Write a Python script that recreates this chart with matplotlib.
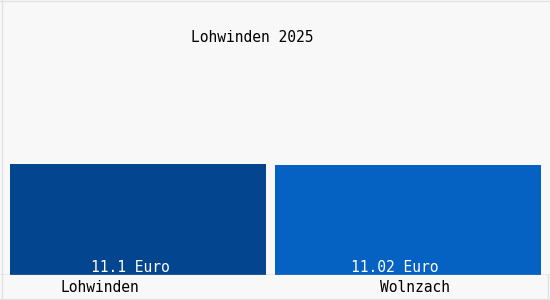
import matplotlib.pyplot as plt

# data
orte = ['Lohwinden', 'Wolnzach']
werte = [11.1, 11.02]
werte_text = ['11.1 Euro', '11.02 Euro']
titel = 'Lohwinden 2025'
farben = ['#03468f', '#0561c2']

fig = plt.figure(figsize=(5.5, 3), dpi=100)
fig.patch.set_facecolor('#f8f8f8')

# bars: value 0 at y=275 px, 10 px per unit
ax = fig.add_axes([0, 25 / 300, 1, 275 / 300])
ax.set_xlim(0, 550)
ax.set_ylim(0, 27.5)
ax.axis('off')
links = [10, 275]
breite = [256, 266]
ax.bar(links, werte, width=breite, align='edge', color=farben, linewidth=0)
ax.axhline(0, color='#a8a8a8', lw=1)

# overlay in pixel coords for frame and texts
bg = fig.add_axes([0, 0, 1, 1])
bg.set_zorder(5)
bg.set_xlim(0, 550)
bg.set_ylim(300, 0)
bg.axis('off')
bg.plot([2, 2], [0, 300], color='#e2e2e2', lw=1)
bg.plot([0, 550], [1, 1], color='#e2e2e2', lw=1)
bg.plot([0, 550], [298.5, 298.5], color='#e2e2e2', lw=1)
bg.plot([548, 548], [275, 300], color='#e2e2e2', lw=1)

font = dict(family='DejaVu Sans Mono', fontsize=10.5)
label_x = [130.5, 394.5]
for x, t in zip(label_x, werte_text):
    bg.text(x, 268, t, color='white', ha='center', va='center', **font)

name_x = [99.5, 415]
for x, n in zip(name_x, orte):
    bg.text(x, 288, n, color='black', ha='center', va='center', **font)

bg.text(252.5, 38, titel, color='black', ha='center', va='center', **font)

fig.savefig('out.png', dpi=100, facecolor=fig.get_facecolor())
